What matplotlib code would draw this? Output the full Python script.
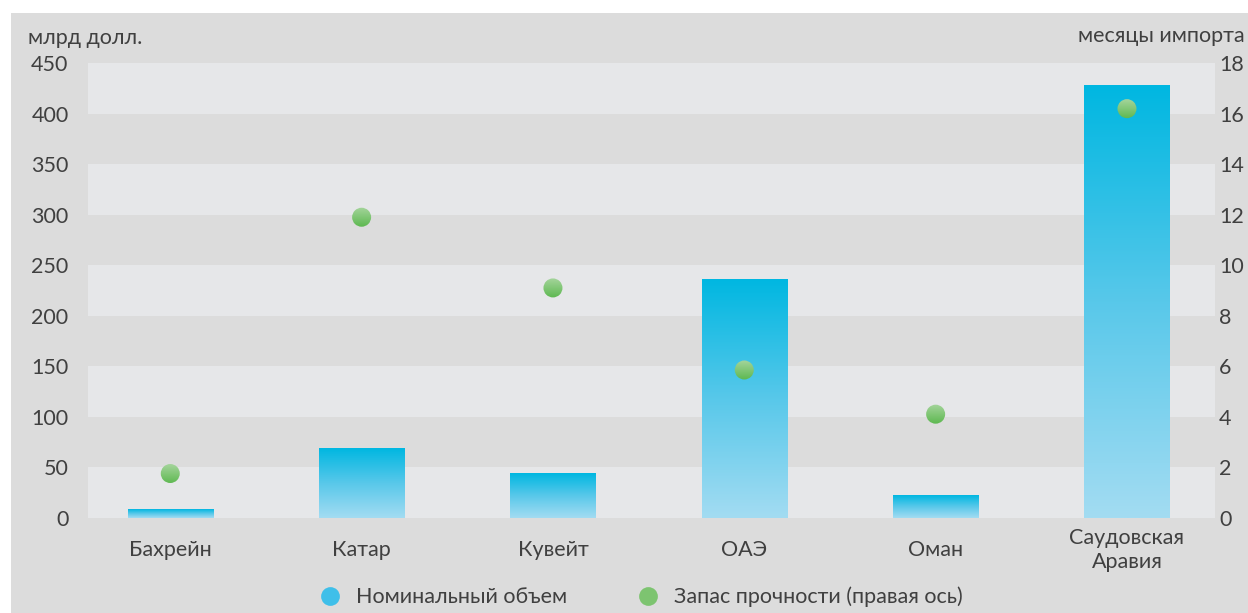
import numpy as np
import matplotlib
matplotlib.use('agg')
from matplotlib import pyplot as plt
from matplotlib.patches import Rectangle, Circle
from matplotlib.lines import Line2D
import matplotlib.transforms as mtransforms
from matplotlib.colors import LinearSegmentedColormap

countries = ['Бахрейн', 'Катар', 'Кувейт', 'ОАЭ', 'Оман', 'Саудовская\nАравия']
volume = [8.5, 69, 44, 236, 22.5, 428]          # млрд долл.
months = [1.75, 11.9, 9.1, 5.85, 4.1, 16.2]     # месяцы импорта
left_ticks = list(range(0, 451, 50))
right_ticks = list(range(0, 19, 2))

TEXT = '#404040'
BG = '#dcdcdc'
BAND = '#e6e7e9'
FS = 15.5

plt.rcParams['font.family'] = ['Lato', 'DejaVu Sans']

fig = plt.figure(figsize=(12.48, 6.13), dpi=100)
fig.patch.set_facecolor('white')
fig.patches.append(Rectangle((11 / 1248, 0), 1, 1 - 13 / 613, transform=fig.transFigure,
                             facecolor=BG, edgecolor='none', zorder=-10))

ax = fig.add_axes([88 / 1248, 1 - 517.7 / 613, (1215 - 88) / 1248, (517.7 - 63.2) / 613])
ax.set_facecolor('none')

# alternating bands: light on 0-50, 100-150, ... 400-450
for lo in left_ticks[::2]:
    ax.axhspan(lo, lo + 50, color=BAND, lw=0, zorder=0)

# bars with vertical gradient (light at bottom, cyan at top)
bar_cmap = LinearSegmentedColormap.from_list('bar', ['#a3dcf2', '#58c8ea', '#00b7e1'])
grad = np.linspace(0, 1, 256).reshape(-1, 1)
w = 0.445
for i, v in enumerate(volume):
    ax.imshow(grad, cmap=bar_cmap, origin='lower', aspect='auto',
              extent=(i - w / 2, i + w / 2, 0, v), zorder=2, interpolation='bilinear')
ax.set_xlim(-0.43, 5.46)
ax.set_ylim(0, 450)

ax.set_xticks(range(len(countries)))
ax.set_xticklabels(countries, fontsize=FS, color=TEXT, linespacing=1.25, va='center')
ax.set_yticks(left_ticks)
ax.set_yticklabels([str(t) for t in left_ticks], fontsize=FS, color=TEXT)
ax.tick_params(axis='both', length=0)
ax.tick_params(axis='y', pad=14)
ax.tick_params(axis='x', pad=23)
for s in ax.spines.values():
    s.set_visible(False)

# right axis with green dots
ax2 = ax.twinx()
ax2.set_yticks(right_ticks)
ax2.set_yticklabels([str(t) for t in right_ticks], fontsize=FS, color=TEXT)
ax2.tick_params(axis='y', length=0, pad=3)
for s in ax2.spines.values():
    s.set_visible(False)

dot_cmap = LinearSegmentedColormap.from_list('dot', ['#5cb84f', '#a9d6a0'])
r_px = 9.5
for i, m in enumerate(months):
    circ = Circle((0, 0), r_px / 100, transform=fig.dpi_scale_trans +
                  mtransforms.ScaledTranslation(i, m, ax2.transData),
                  facecolor='none', edgecolor='none')
    ax2.add_patch(circ)
    im = ax2.imshow(grad, cmap=dot_cmap, origin='lower', aspect='auto',
                    extent=(i - 0.06, i + 0.06, m - 0.4, m + 0.4), zorder=3,
                    interpolation='bilinear')
    im.set_clip_path(circ)
ax2.set_xlim(-0.43, 5.46)
ax2.set_ylim(0, 18)

fig.text(28 / 1248, 1 - 38 / 613, 'млрд долл.', fontsize=FS, color=TEXT, ha='left', va='center')
fig.text(1245 / 1248, 1 - 36 / 613, 'месяцы импорта', fontsize=FS, color=TEXT, ha='right', va='center')

handles = [Line2D([], [], marker='o', ls='', markersize=13.5, markerfacecolor='#3fbfe9',
                  markeredgecolor='none'),
           Line2D([], [], marker='o', ls='', markersize=13.5, markerfacecolor='#7dc470',
                  markeredgecolor='none')]
fig.legend(handles, ['Номинальный объем', 'Запас прочности (правая ось)'], ncol=2,
           loc='center', bbox_to_anchor=(641 / 1248, 1 - 597 / 613), frameon=False,
           fontsize=FS, labelcolor=TEXT, handletextpad=0.7, columnspacing=3.3,
           handlelength=1.0)

fig.savefig('out.png', dpi=100, facecolor=fig.get_facecolor())
